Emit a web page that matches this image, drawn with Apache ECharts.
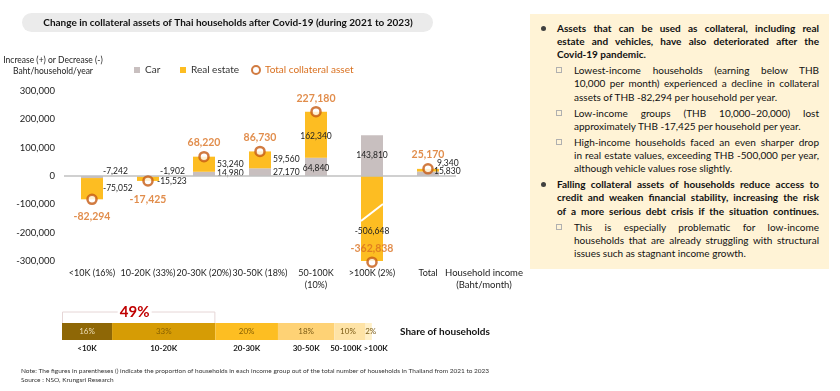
<!DOCTYPE html>
<html><head><meta charset="utf-8">
<script src="https://cdn.jsdelivr.net/npm/echarts@6/dist/echarts.min.js"></script>
<style>
html,body{margin:0;padding:0;background:#fff;}
#wrap{position:relative;width:840px;height:391px;overflow:hidden;background:#fff;}
#chart{position:absolute;left:0;top:0;width:840px;height:391px;}
#panel{position:absolute;left:530px;top:14px;width:299px;height:255px;background:#fff3d6;font-family:Lato,"Open Sans",sans-serif;color:#111;}
#panel .ln{position:absolute;line-height:13px;height:13px;text-align:justify;text-align-last:justify;}
#panel .ln.last{text-align-last:left;}
#panel .b{font-weight:bold;left:27px;width:262px;}
#panel .s{left:44px;width:245px;}
#panel .dot{position:absolute;width:5px;height:5px;border-radius:50%;background:#404040;left:11px;}
#panel .sq{position:absolute;width:4px;height:4px;border:1px solid #b0b0b0;left:26px;}
</style>
</head><body>
<div id="wrap">
  <div id="chart"></div>
  <div id="panel"></div>
</div>
<script>
// ---------- DATA ----------
const categories = ['<10K (16%)', '10-20K (33%)', '20-30K (20%)', '30-50K (18%)', '50-100K\n(10%)', '>100K (2%)', 'Total'];
const carValues = [-7242, -1902, 14980, 27170, 64840, 143810, 15830];
const realEstateValues = [-75052, -15523, 53240, 59560, 162340, -506648, 9340];
const totalValues = [-82294, -17425, 68220, 86730, 227180, -362838, 25170];
const yMin = -300000, yMax = 300000, yInterval = 100000;

const shareGroups = ['<10K', '10-20K', '20-30K', '30-50K', '50-100K', '>100K'];
const shareValues = [16, 33, 20, 18, 10, 2];
const lowIncomeShare = 49;

const titleText = 'Change in collateral assets of Thai households after Covid-19 (during 2021 to 2023)';
const noteText = 'Note: The figures in parentheses () indicate the proportion of households in each income group out of the total number of households in Thailand from 2021 to 2023';
const sourceText = 'Source : NSO, Krungsri Research';

const panelLines = [
  ['b', 28, 'Assets that can be used as collateral, including real'],
  ['b', 41, 'estate and vehicles, have also deteriorated after the'],
  ['b last', 54, 'Covid-19 pandemic.'],
  ['s', 70, 'Lowest-income households (earning below THB'],
  ['s', 83.5, '10,000 per month) experienced a decline in collateral'],
  ['s last', 97, 'assets of THB -82,294 per household per year.'],
  ['s', 113, 'Low-income groups (THB 10,000–20,000) lost'],
  ['s last', 126, 'approximately THB -17,425  per household per year.'],
  ['s', 142, 'High-income households faced an even sharper drop'],
  ['s', 155.5, 'in real estate values, exceeding THB -500,000 per year,'],
  ['s last', 168, 'although vehicle values rose slightly.'],
  ['b', 184, 'Falling collateral assets of households reduce access to'],
  ['b', 197.5, 'credit and weaken financial stability, increasing the risk'],
  ['b', 211, 'of a more serious debt crisis if the situation continues.'],
  ['s', 227, 'This is especially problematic for low-income'],
  ['s', 240, 'households that are already struggling with structural'],
  ['s last', 253, 'issues such as stagnant income growth.']
];
const panelDots = [28, 184];
const panelSquares = [70, 113, 142, 227];

// ---------- STYLE ----------
const FONT = 'Lato, "Open Sans", sans-serif';
const carColor = '#c8bfbf';
const realColor = '#fdbd22';
const ringColor = '#c55a11';
const totalLabelColor = '#d9701f';
const shareColors = ['#8e6706', '#d69c05', '#fdbe22', '#fed275', '#fee3a6', '#fff0c8'];
const sharePctColors = ['#eedfb8', '#8a6200', '#8a6200', '#7a5a14', '#7a5a14', '#7a5a14'];
const shareNameOffset = [0, 0, 0, 0, -4, 7];
const sharePctOffset = [0, 0, 0, 0, -2, 2];
const brokenAxisMarkerFloor = -304000; // axis is broken below -300,000

const carLabelLayout = [
  {position: 'right', distance: 0, offset: [0, -6]},
  {position: 'right', distance: 1, offset: [0, -5]},
  {position: 'right', distance: 2, offset: [0, -1]},
  {position: 'right', distance: 2, offset: [0, 0]},
  {position: 'inside', offset: [0, 1]},
  {position: 'inside', offset: [0, 0]},
  {position: 'right', distance: -5, offset: [0, -2]}
];
const realLabelLayout = [
  {position: 'right', distance: 0, offset: [0, 0]},
  {position: 'right', distance: -2, offset: [0, 3]},
  {position: 'right', distance: 2, offset: [0, 0]},
  {position: 'right', distance: 2, offset: [0, -1]},
  {position: 'inside', offset: [0, 2]},
  {position: 'inside', offset: [0, 13]},
  {position: 'right', distance: -2, offset: [0, -7]}
];
const totalLabelLayout = [
  {position: 'bottom', distance: 6},
  {position: 'bottom', distance: 7},
  {position: 'top', distance: 3},
  {position: 'top', distance: 3},
  {position: 'top', distance: 2},
  {position: 'top', distance: 2},
  {position: 'top', distance: 3}
];

function fmt(v) { return v.toLocaleString('en-US'); }
function shiftPad(off) { return off >= 0 ? [0, 0, 0, 2 * off] : [0, -2 * off, 0, 0]; }
const measureCtx = document.createElement('canvas').getContext('2d');
function fitSize(text, weight, target, max) {
  let s = max;
  for (; s > 5; s -= 0.25) {
    measureCtx.font = weight + ' ' + s + 'px ' + FONT;
    if (measureCtx.measureText(text).width <= target) break;
  }
  return s;
}

// ---------- PANEL (HTML text, justified) ----------
(function buildPanel() {
  const panel = document.getElementById('panel');
  const top0 = 14;
  let size = 11;
  panelLines.forEach(([cls, y, t]) => {
    const bold = cls.indexOf('b') === 0;
    size = Math.min(size, fitSize(t, bold ? 'bold' : 'normal', bold ? 260 : 243, 11));
  });
  panel.style.fontSize = size + 'px';
  panelLines.forEach(([cls, y, t]) => {
    const d = document.createElement('div');
    d.className = 'ln ' + cls;
    d.style.top = (y - top0 - 6.5) + 'px';
    d.textContent = t;
    panel.appendChild(d);
  });
  panelDots.forEach(y => {
    const d = document.createElement('div'); d.className = 'dot';
    d.style.top = (y - top0 - 2.5) + 'px'; panel.appendChild(d);
  });
  panelSquares.forEach(y => {
    const d = document.createElement('div'); d.className = 'sq';
    d.style.top = (y - top0 - 3) + 'px'; panel.appendChild(d);
  });
})();

// ---------- CHART ----------
const chart = echarts.init(document.getElementById('chart'), null, {renderer: 'canvas', width: 840, height: 391});

const option = {
  animation: false,
  backgroundColor: 'transparent',
  textStyle: {fontFamily: FONT},
  legend: [
    {left: 129, top: 60, itemWidth: 6, itemHeight: 6, selectedMode: false,
     textStyle: {fontSize: 10, color: '#333', fontFamily: FONT},
     data: [{name: 'Car', icon: 'rect'}]},
    {left: 175, top: 60, itemWidth: 6, itemHeight: 6, selectedMode: false,
     textStyle: {fontSize: 10, color: '#333', fontFamily: FONT},
     data: [{name: 'Real estate', icon: 'rect'}]},
    {left: 246, top: 60, itemWidth: 8, itemHeight: 8, selectedMode: false,
     textStyle: {fontSize: 10, color: totalLabelColor, fontFamily: FONT},
     data: [{name: 'Total collateral asset', icon: 'circle',
             itemStyle: {color: '#fff', borderColor: ringColor, borderWidth: 2}}]}
  ],
  grid: [
    {left: 64, top: 91, width: 392, height: 170, outerBoundsMode: 'none'},
    {left: 62, top: 323, width: 313, height: 17, outerBoundsMode: 'none'}
  ],
  xAxis: [
    {type: 'category', gridIndex: 0, data: categories,
     axisLine: {show: false}, axisTick: {show: false},
     axisLabel: {interval: 0, margin: 6, fontSize: 9, lineHeight: 12, color: '#222', fontFamily: FONT}},
    {type: 'value', gridIndex: 1, min: 0, max: 100, show: false}
  ],
  yAxis: [
    {type: 'value', gridIndex: 0, min: yMin, max: yMax, interval: yInterval,
     splitLine: {show: false}, axisLine: {show: false}, axisTick: {show: false},
     axisLabel: {formatter: v => fmt(v), fontSize: 9.5, color: '#222', margin: 9, fontFamily: FONT}},
    {type: 'category', gridIndex: 1, data: ['share'], show: false}
  ],
  series: [
    {
      name: 'Car', type: 'bar', stack: 'collateral', barWidth: 22,
      xAxisIndex: 0, yAxisIndex: 0,
      itemStyle: {color: carColor},
      label: {show: true, fontSize: 8.5, color: '#222', fontFamily: FONT,
              formatter: p => fmt(carValues[p.dataIndex])},
      data: carValues.map((v, i) => ({value: v, label: carLabelLayout[i]})),
      markLine: {silent: true, symbol: 'none', label: {show: false},
                 lineStyle: {color: '#c0c0c0', width: 1.5, type: 'solid'},
                 data: [{yAxis: 0}]},
      z: 2
    },
    {
      name: 'Real estate', type: 'bar', stack: 'collateral', barWidth: 22,
      xAxisIndex: 0, yAxisIndex: 0,
      itemStyle: {color: realColor},
      label: {show: true, fontSize: 8.5, color: '#222', fontFamily: FONT,
              formatter: p => fmt(realEstateValues[p.dataIndex])},
      data: realEstateValues.map((v, i) => ({value: Math.max(v, yMin), label: realLabelLayout[i]})),
      z: 2
    },
    {
      name: 'Total collateral asset', type: 'scatter', clip: false,
      xAxisIndex: 0, yAxisIndex: 0,
      symbol: 'circle', symbolSize: 9,
      itemStyle: {color: '#fff', borderColor: ringColor, borderWidth: 2.5},
      label: {show: true, fontSize: 10.5, fontWeight: 'bold', color: totalLabelColor, fontFamily: FONT,
              formatter: p => fmt(totalValues[p.dataIndex])},
      data: totalValues.map((v, i) => ({value: Math.max(v, brokenAxisMarkerFloor), label: totalLabelLayout[i]})),
      z: 5
    }
  ].concat(shareValues.map((v, i) => ({
    name: 'share-' + shareGroups[i], type: 'bar', stack: 'share', barWidth: 17,
    xAxisIndex: 1, yAxisIndex: 1,
    itemStyle: {color: shareColors[i]},
    label: {
      show: true, position: 'inside', offset: [0, 8.5],
      formatter: () => '{p|' + v + '%}\n{n|' + shareGroups[i] + '}',
      rich: {
        p: {fontSize: 8, color: sharePctColors[i], lineHeight: 17, fontFamily: FONT, padding: shiftPad(sharePctOffset[i])},
        n: {fontSize: 8, fontWeight: 'bold', color: '#222', lineHeight: 17, fontFamily: FONT, padding: shiftPad(shareNameOffset[i])}
      }
    },
    data: [v]
  })))
};
chart.setOption(option);

// ---------- ANNOTATIONS (positions from the axes) ----------
const brkA = chart.convertToPixel({xAxisIndex: 0, yAxisIndex: 0}, [5, -159000]);
const brkB = chart.convertToPixel({xAxisIndex: 0, yAxisIndex: 0}, [5, -99000]);
const shareL = chart.convertToPixel({xAxisIndex: 1, yAxisIndex: 1}, [0, 0]);
const shareR = chart.convertToPixel({xAxisIndex: 1, yAxisIndex: 1}, [lowIncomeShare, 0]);
const bracketY = 312, barTop = 323;
const bracketMid = (shareL[0] + shareR[0]) / 2 - 4;

const titleSize = fitSize(titleText, 'bold', 375, 12);
const noteSize = fitSize(noteText, 'normal', 486, 8);
const yTitleSize = fitSize('Increase (+) or Decrease (-)', 'normal', 100, 10);
const shareTitleSize = fitSize('Share of households', 'bold', 92, 12);

chart.setOption({
  graphic: [
    {type: 'rect', left: 22, top: 13, shape: {width: 411, height: 19, r: 9.5}, style: {fill: '#ebebeb'}, silent: true},
    {type: 'text', x: 228, y: 22.5, style: {text: titleText, font: 'bold ' + titleSize + 'px ' + FONT, fill: '#111', align: 'center', verticalAlign: 'middle'}},
    {type: 'text', x: 53, y: 65.5, style: {text: 'Increase (+) or Decrease (-)\nBaht/household/year', font: yTitleSize + 'px ' + FONT, lineHeight: 11, fill: '#222', align: 'center', verticalAlign: 'middle'}},
    {type: 'text', x: 484, y: 279, style: {text: 'Household income\n(Baht/month)', font: '9.5px ' + FONT, lineHeight: 12, fill: '#222', align: 'center', verticalAlign: 'middle'}},
    {type: 'line', shape: {x1: brkA[0] - 11, y1: brkA[1], x2: brkB[0] + 11, y2: brkB[1]}, style: {stroke: '#fff', lineWidth: 2}, z: 10, silent: true},
    {type: 'polyline', shape: {points: [[shareL[0] + 0.5, barTop], [shareL[0] + 0.5, bracketY], [bracketMid - 17, bracketY]]}, style: {stroke: '#e6d6d6', lineWidth: 1, fill: null}, silent: true},
    {type: 'polyline', shape: {points: [[bracketMid + 17, bracketY], [shareR[0] - 0.5, bracketY], [shareR[0] - 0.5, barTop]]}, style: {stroke: '#e6d6d6', lineWidth: 1, fill: null}, silent: true},
    {type: 'text', x: bracketMid, y: 312, style: {text: lowIncomeShare + '%', font: 'bold 15px ' + FONT, fill: '#c00000', align: 'center', verticalAlign: 'middle'}},
    {type: 'text', x: 400, y: 332, style: {text: 'Share of households', font: 'bold ' + shareTitleSize + 'px ' + FONT, fill: '#111', align: 'left', verticalAlign: 'middle'}},
    {type: 'text', x: 21, y: 371, style: {text: noteText, font: noteSize + 'px ' + FONT, fill: '#333', align: 'left', verticalAlign: 'middle'}},
    {type: 'text', x: 21, y: 379.5, style: {text: sourceText, font: noteSize + 'px ' + FONT, fill: '#333', align: 'left', verticalAlign: 'middle'}}
  ]
});
</script>
</body></html>
